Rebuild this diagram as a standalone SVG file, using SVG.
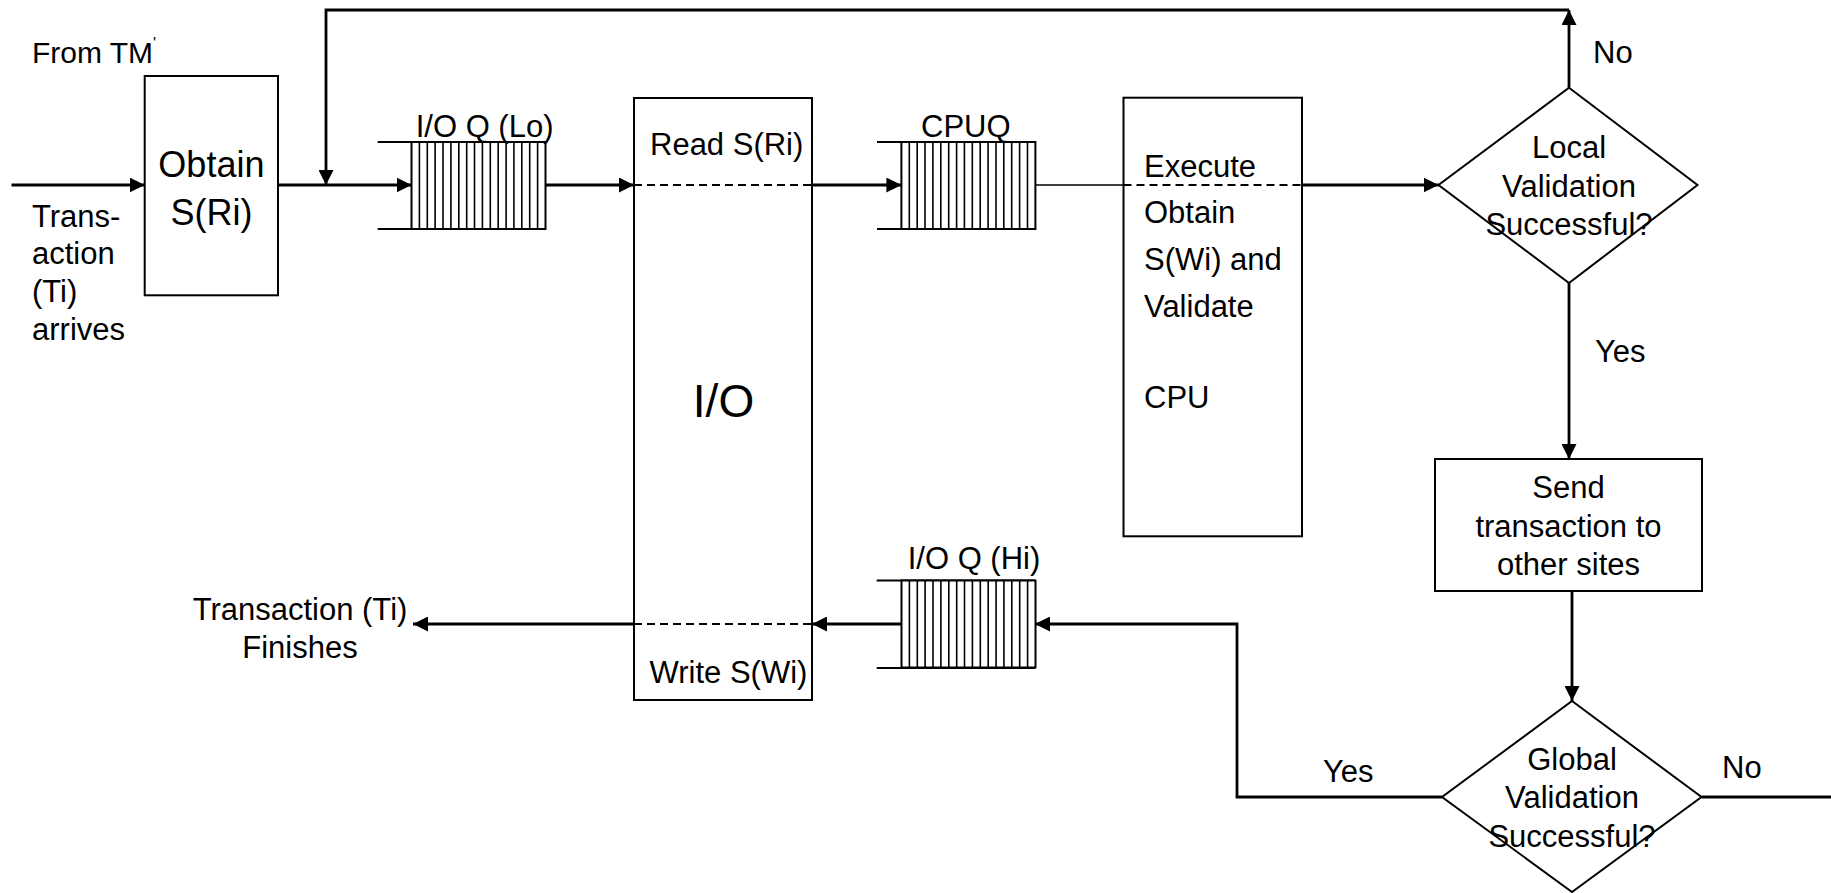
<svg xmlns="http://www.w3.org/2000/svg" xmlns:xlink="http://www.w3.org/1999/xlink" width="1831" height="893" viewBox="0 0 1831 893">
<style>
text{font-family:"Liberation Sans",Arial,sans-serif;font-size:31px;fill:#000}
.c{text-anchor:middle}
.box{fill:#fff;stroke:#000;stroke-width:2}
.dash{fill:none;stroke:#000;stroke-width:2;stroke-dasharray:8,5}
.con{fill:none;stroke:#000;stroke-width:2.8}
.thin{fill:none;stroke:#000;stroke-width:1.5}
.ql{fill:none;stroke:#000;stroke-width:2}
</style>
<defs>
<marker id="ah" markerWidth="15" markerHeight="15" refX="15" refY="7.5" orient="auto" markerUnits="userSpaceOnUse" viewBox="0 0 15 15">
<path d="M0,0 L15,7.5 L0,15 Z" fill="#000"/>
</marker>
<g id="hatch">
<rect x="0" y="0" width="134" height="87" fill="#fff" stroke="#000" stroke-width="2"/>
<path d="M7.9,0V87M15.8,0V87M23.6,0V87M31.5,0V87M39.4,0V87M47.3,0V87M55.2,0V87M63,0V87M70.9,0V87M78.8,0V87M86.7,0V87M94.6,0V87M102.4,0V87M110.3,0V87M118.2,0V87M126.1,0V87" stroke="#000" stroke-width="1.6" fill="none"/>
</g>
</defs>
<rect width="1831" height="893" fill="#fff"/>

<g id="connectors">
<path class="con" d="M11.5,185H144.7" marker-end="url(#ah)"/>
<path class="con" d="M278,185H411.5" marker-end="url(#ah)"/>
<path class="con" d="M545.5,185H634" marker-end="url(#ah)"/>
<path class="con" d="M812,185H901.4" marker-end="url(#ah)"/>
<path class="thin" d="M1035,185H1123.5"/>
<path class="con" d="M1302,185H1438.5" marker-end="url(#ah)"/>
<path class="con" d="M1569,87.7V10" marker-end="url(#ah)"/>
<path class="con" d="M1569,10H326V185" marker-end="url(#ah)"/>
<path class="con" d="M1569,283V459" marker-end="url(#ah)"/>
<path class="con" d="M1572,591V701" marker-end="url(#ah)"/>
<path class="con" d="M1442,797H1237V624H1035" marker-end="url(#ah)"/>
<path class="con" d="M901.5,624H812" marker-end="url(#ah)"/>
<path class="con" d="M634,624H413" marker-end="url(#ah)"/>
<path class="con" d="M1701.5,797H1831"/>
</g>

<g id="from-tm">
<text x="32" y="63" style="font-size:30px">From TM<tspan style="font-size:16px" dy="-14">'</tspan></text>
</g>
<g id="arrival-label">
<text x="32" y="226.7">Trans-</text>
<text x="32" y="264.3">action</text>
<text x="32" y="301.5">(Ti)</text>
<text x="32" y="339.7">arrives</text>
</g>

<g id="obtain-sri">
<rect class="box" x="144.7" y="76" width="133.3" height="219.3"/>
<text class="c" x="211.4" y="176.7" style="font-size:36px">Obtain</text>
<text class="c" x="211.4" y="225" style="font-size:36px">S(Ri)</text>
</g>

<g id="io-queue-lo">
<path class="ql" d="M377.7,142H545.5M377.7,229H545.5"/>
<use xlink:href="#hatch" x="411.5" y="142"/>
<text x="415.7" y="137">I/O Q (Lo)</text>
</g>

<g id="io">
<rect class="box" x="634" y="98" width="178" height="602"/>
<path class="dash" d="M634,185H812M634,624H812"/>
<text x="650" y="155">Read S(Ri)</text>
<text class="c" x="723.5" y="417" style="font-size:46px">I/O</text>
<text x="649.5" y="682.7">Write S(Wi)</text>
</g>

<g id="cpu-queue">
<path class="ql" d="M877,142H1035M877,229H1035"/>
<use xlink:href="#hatch" x="901.4" y="142"/>
<text x="921" y="137">CPUQ</text>
</g>

<g id="cpu">
<rect class="box" x="1123.5" y="97.7" width="178.5" height="438.6"/>
<path class="dash" d="M1123.5,185H1302"/>
<text x="1144" y="176.7">Execute</text>
<text x="1144" y="223.3">Obtain</text>
<text x="1144" y="270">S(Wi) and</text>
<text x="1144" y="316.7">Validate</text>
<text x="1144" y="408.3">CPU</text>
</g>

<g id="local-validation">
<polygon class="box" points="1569,87.7 1697.5,185 1569,283 1438.5,185"/>
<text class="c" x="1569" y="158.3">Local</text>
<text class="c" x="1569" y="197.3">Validation</text>
<text class="c" x="1569" y="235">Successful?</text>
</g>
<g id="label-no-top"><text x="1593" y="63">No</text></g>
<g id="label-yes-local"><text x="1595" y="361.7">Yes</text></g>

<g id="send">
<rect class="box" x="1435" y="459" width="267" height="132"/>
<text class="c" x="1568.5" y="498.3">Send</text>
<text class="c" x="1568.5" y="536.7">transaction to</text>
<text class="c" x="1568.5" y="575">other sites</text>
</g>

<g id="global-validation">
<polygon class="box" points="1572,701 1701.5,797 1572,892 1442,797"/>
<text class="c" x="1572" y="770">Global</text>
<text class="c" x="1572" y="808.3">Validation</text>
<text class="c" x="1572" y="846.7">Successful?</text>
</g>
<g id="label-yes-global"><text x="1323" y="781.7">Yes</text></g>
<g id="label-no-global"><text x="1722" y="778.3">No</text></g>

<g id="io-queue-hi">
<path class="ql" d="M876.7,580.5H1035M876.7,668H1035"/>
<use xlink:href="#hatch" x="901.5" y="580.5"/>
<text x="907.7" y="569.3">I/O Q (Hi)</text>
</g>

<g id="finish">
<text class="c" x="300" y="620">Transaction (Ti)</text>
<text class="c" x="300" y="658.3">Finishes</text>
</g>
</svg>
